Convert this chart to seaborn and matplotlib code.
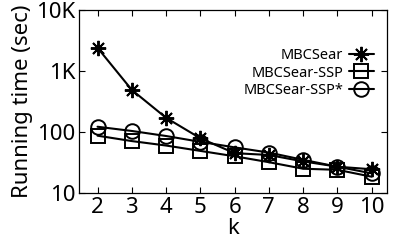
import pandas as pd
import matplotlib
matplotlib.use("Agg")
import matplotlib.pyplot as plt
import seaborn as sns
from matplotlib.ticker import FixedLocator, NullLocator

# -------- DATOS --------
k = [2, 3, 4, 5, 6, 7, 8, 9, 10]
mbcsear = [2400, 490, 171, 79, 45, 42, 33, 27, 24.5]
mbcsear_ssp = [87, 71, 60, 49, 40, 32, 25, 24, 18.5]
mbcsear_ssp_star = [122, 104, 86, 69, 56, 46, 35, 27, 21]
series = ["MBCSear", "MBCSear-SSP", "MBCSear-SSP*"]
ytick_vals = [10, 100, 1000, 10000]
ytick_labels = ["10", "100", "1K", "10K"]

datos = {series[0]: mbcsear, series[1]: mbcsear_ssp, series[2]: mbcsear_ssp_star}
marcadores = {series[0]: (8, 2, 0), series[1]: "s", series[2]: "o"}
tamanos = {series[0]: 11, series[1]: 9.5, series[2]: 10.5}

sns.set_style("ticks", {"text.color": "black", "axes.labelcolor": "black",
                        "xtick.color": "black", "ytick.color": "black",
                        "axes.edgecolor": "black"})
plt.rcParams["font.family"] = ["Noto Sans", "DejaVu Sans"]

fig, ax = plt.subplots(figsize=(4.07, 2.44), dpi=100)
for nombre in series:
    df = pd.DataFrame({"k": k, "time": datos[nombre]})
    sns.lineplot(
        data=df, x="k", y="time", color="black", marker=marcadores[nombre],
        markersize=tamanos[nombre], markerfacecolor="none", markeredgecolor="black",
        markeredgewidth=1.4, linewidth=1.5, ax=ax, label=nombre,
    )

ax.set_yscale("log")
ax.set_ylim(10, 10000)
ax.set_xlim(1.47, 10.45)
ax.yaxis.set_major_locator(FixedLocator(ytick_vals))
ax.yaxis.set_minor_locator(NullLocator())
ax.set_yticklabels(ytick_labels)
ax.set_xticks(k)
ax.tick_params(direction="in", top=True, right=True, labelsize=16, length=4, width=0.8, pad=3)
ax.set_xlabel("k", fontsize=16, labelpad=0)
ax.set_ylabel("Running time (sec)", fontsize=16, labelpad=2)
for s in ax.spines.values():
    s.set_linewidth(0.9)

handles, labels = ax.get_legend_handles_labels()
ax.legend(handles, labels, loc="upper right", bbox_to_anchor=(0.99, 0.85),
          frameon=False, markerfirst=False, fontsize=10.5, handlelength=1.7,
          labelspacing=0.2, borderaxespad=0.3, handletextpad=0.4)

plt.subplots_adjust(left=0.195, right=0.951, top=0.959, bottom=0.209)
plt.savefig("out.png", dpi=100)
